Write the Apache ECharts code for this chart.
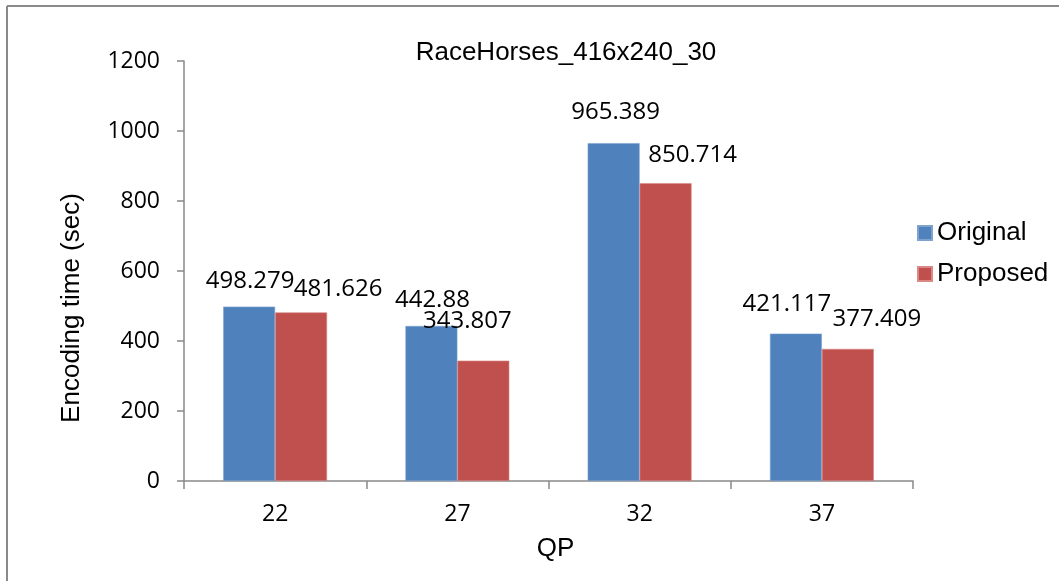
<!DOCTYPE html>
<html>
<head>
<meta charset="utf-8">
<title>RaceHorses_416x240_30</title>
<script src="https://cdn.jsdelivr.net/npm/echarts@6/dist/echarts.min.js"></script>
<style>
  html, body { margin: 0; padding: 0; background: #ffffff; }
  #chart { width: 1059px; height: 581px; }
</style>
</head>
<body>
<div id="chart"></div>
<script>
// Encoding time per QP for the two encoder versions
const chartTitle = 'RaceHorses_416x240_30';
const categories = ['22', '27', '32', '37'];
const seriesNames = ['Original', 'Proposed'];
const originalTimes = [498.279, 442.88, 965.389, 421.117];
const proposedTimes = [481.626, 343.807, 850.714, 377.409];
const yTicks = { min: 0, max: 1200, interval: 200 };

// Hand-placed label nudges (px) so neighbouring value labels don't collide
const originalLabelShift = [[1, -13], [1, -14], [2, -19], [-9, -17]];
const proposedLabelShift = [[37, -11], [-16, -28], [27, -16], [29, -18]];

const numFont = 'Open Sans';
const textFont = 'Liberation Sans';
const axisGray = '#898989';

function withLabels(values, shifts) {
  return values.map((v, i) => ({
    value: v,
    label: { offset: shifts[i] }
  }));
}

const chart = echarts.init(document.getElementById('chart'), null, { renderer: 'canvas' });

chart.setOption({
  backgroundColor: '#ffffff',
  animation: false,
  title: {
    text: chartTitle,
    left: 561,
    textAlign: 'center',
    top: 35,
    textStyle: { fontFamily: textFont, fontSize: 26, fontWeight: 'normal', color: '#000000' }
  },
  legend: {
    orient: 'vertical',
    left: 912,
    top: 215,
    itemWidth: 14,
    itemHeight: 14,
    itemGap: 15,
    icon: 'rect',
    data: seriesNames,
    textStyle: { fontFamily: textFont, fontSize: 26, color: '#000000' }
  },
  grid: { left: 184, right: 146, top: 61, bottom: 100, containLabel: false },
  xAxis: {
    type: 'category',
    data: categories,
    name: 'QP',
    nameLocation: 'middle',
    nameGap: 55,
    nameTextStyle: { fontFamily: textFont, fontSize: 26, color: '#000000', padding: [0, 0, 0, 14] },
    axisLine: { show: true, lineStyle: { color: axisGray, width: 1.5 } },
    axisTick: { show: true, alignWithLabel: false, length: 8, lineStyle: { color: axisGray, width: 1.5 } },
    axisLabel: { margin: 22, fontFamily: numFont, fontSize: 23, color: '#000000' },
    splitLine: { show: false }
  },
  yAxis: {
    type: 'value',
    min: yTicks.min,
    max: yTicks.max,
    interval: yTicks.interval,
    name: 'Encoding time (sec)',
    nameLocation: 'middle',
    nameRotate: 90,
    nameGap: 99,
    nameTextStyle: { fontFamily: textFont, fontSize: 26, color: '#000000', padding: [0, 74, 0, 0] },
    axisLine: { show: true, lineStyle: { color: axisGray, width: 1.5 } },
    axisTick: { show: true, length: 7, lineStyle: { color: axisGray, width: 1.5 } },
    axisLabel: {
      margin: 24, fontFamily: numFont, fontSize: 23, color: '#000000',
      formatter: (v) => String(v)
    },
    splitLine: { show: false }
  },
  series: [
    {
      name: seriesNames[0],
      type: 'bar',
      barGap: '0%',
      barCategoryGap: '43%',
      itemStyle: { color: '#4F81BD', borderColor: '#7ea3cf', borderWidth: 0.6 },
      label: {
        show: true, position: 'top', distance: 0,
        fontFamily: numFont, fontSize: 24, color: '#000000'
      },
      data: withLabels(originalTimes, originalLabelShift)
    },
    {
      name: seriesNames[1],
      type: 'bar',
      barGap: '0%',
      barCategoryGap: '43%',
      itemStyle: { color: '#C0504D', borderColor: '#d98886', borderWidth: 0.6 },
      label: {
        show: true, position: 'top', distance: 0,
        fontFamily: numFont, fontSize: 24, color: '#000000'
      },
      data: withLabels(proposedTimes, proposedLabelShift)
    }
  ],
  graphic: [
    { type: 'line', shape: { x1: 7, y1: 6, x2: 1059, y2: 6 }, style: { stroke: '#8a8a8a', lineWidth: 2 }, silent: true },
    { type: 'line', shape: { x1: 7, y1: 6, x2: 7, y2: 581 }, style: { stroke: '#8a8a8a', lineWidth: 2 }, silent: true }
  ]
});
</script>
</body>
</html>
